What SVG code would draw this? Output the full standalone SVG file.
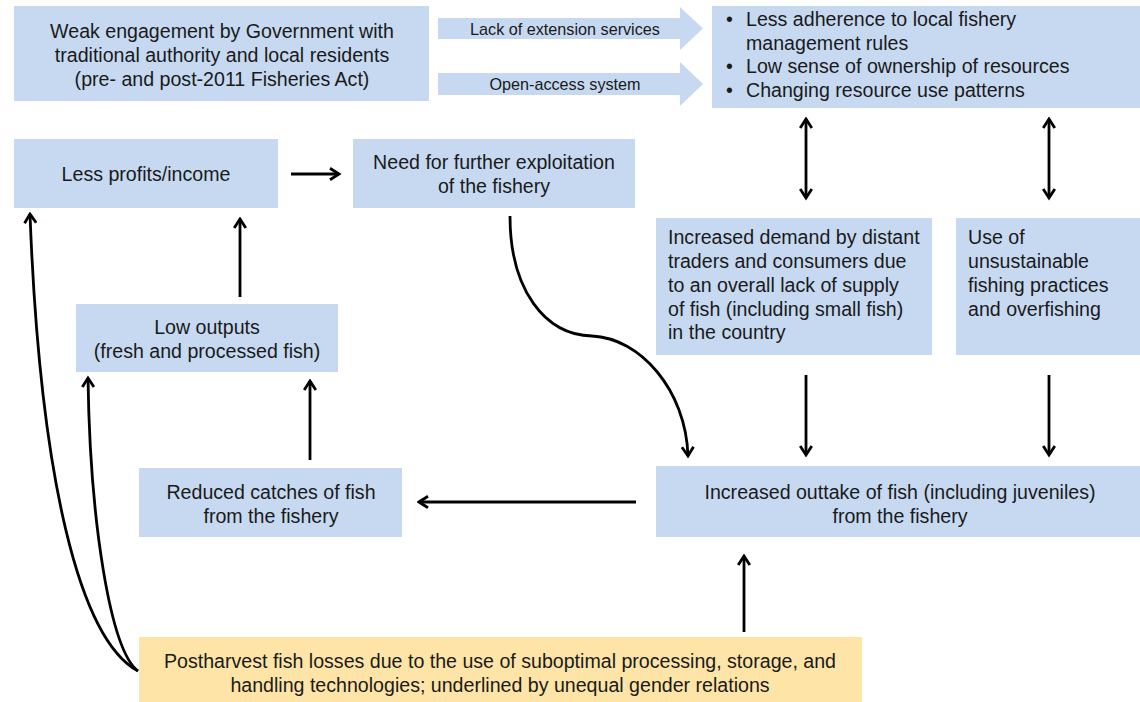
<svg xmlns="http://www.w3.org/2000/svg" width="1140" height="702" viewBox="0 0 1140 702">
<style>
.box{fill:#c6d9f1}
.yel{fill:#fee5a7}
text{font-family:"Liberation Sans",Arial,sans-serif;font-size:19.6px;fill:#1a1a1a}
.c{text-anchor:middle}
.sm{font-size:16.2px}
.ln{fill:none;stroke:#000;stroke-width:2.8}
</style>
<defs>
<marker id="ah" viewBox="0 0 14 14" refX="11.5" refY="7" markerWidth="14" markerHeight="14" markerUnits="userSpaceOnUse" orient="auto-start-reverse">
<path d="M2.5,1.2 L11.5,7 L2.5,12.8" fill="none" stroke="#000" stroke-width="2.8" stroke-linejoin="miter"/>
</marker>
</defs>
<g id="weak"><rect class="box" x="14" y="6" width="415" height="95"/>
<text class="c" x="222" y="38">Weak engagement by Government with</text>
<text class="c" x="222" y="62">traditional authority and local residents</text>
<text class="c" x="222" y="86">(pre- and post-2011 Fisheries Act)</text></g>
<g id="lack"><path class="box" d="M438,18 H680 V7 L703,28.5 L680,50 V39 H438 Z"/>
<text class="c sm" x="565" y="34.5">Lack of extension services</text></g>
<g id="open"><path class="box" d="M438,73 H680 V62 L703,84 L680,106 V95 H438 Z"/>
<text class="c sm" x="565" y="90">Open-access system</text></g>
<g id="adherence"><rect class="box" x="712" y="6" width="428" height="102"/>
<text x="726" y="26">•</text><text x="746" y="26">Less adherence to local fishery</text>
<text x="746" y="50">management rules</text>
<text x="726" y="73">•</text><text x="746" y="73">Low sense of ownership of resources</text>
<text x="726" y="97">•</text><text x="746" y="97">Changing resource use patterns</text></g>
<g id="profits"><rect class="box" x="14" y="139" width="264" height="69"/>
<text class="c" x="146" y="181">Less profits/income</text></g>
<g id="need"><rect class="box" x="353" y="139" width="282" height="69"/>
<text class="c" x="494" y="169">Need for further exploitation</text>
<text class="c" x="494" y="193">of the fishery</text></g>
<g id="demand"><rect class="box" x="656" y="218" width="276" height="137"/>
<text x="668" y="244">Increased demand by distant</text>
<text x="668" y="268">traders and consumers due</text>
<text x="668" y="292">to an overall lack of supply</text>
<text x="668" y="316">of fish (including small fish)</text>
<text x="668" y="339">in the country</text></g>
<g id="unsustainable"><rect class="box" x="956" y="218" width="184" height="137"/>
<text x="968" y="244">Use of</text>
<text x="968" y="268">unsustainable</text>
<text x="968" y="292">fishing practices</text>
<text x="968" y="316">and overfishing</text></g>
<g id="outputs"><rect class="box" x="76" y="304" width="262" height="68"/>
<text class="c" x="207" y="334">Low outputs</text>
<text class="c" x="207" y="358">(fresh and processed fish)</text></g>
<g id="catches"><rect class="box" x="139" y="468" width="263" height="69"/>
<text class="c" x="271" y="499">Reduced catches of fish</text>
<text class="c" x="271" y="523">from the fishery</text></g>
<g id="outtake"><rect class="box" x="656" y="466" width="484" height="71"/>
<text class="c" x="900" y="499">Increased outtake of fish (including juveniles)</text>
<text class="c" x="900" y="523">from the fishery</text></g>
<g id="postharvest"><rect class="yel" x="139" y="637" width="723" height="65"/>
<text class="c" x="500" y="668">Postharvest fish losses due to the use of suboptimal processing, storage, and</text>
<text class="c" x="500" y="692">handling technologies; underlined by unequal gender relations</text></g>
<g id="connectors">
<path class="ln" d="M291,174 H339" marker-end="url(#ah)"/>
<path class="ln" d="M806,119 V198" marker-start="url(#ah)" marker-end="url(#ah)"/>
<path class="ln" d="M1049,119 V198" marker-start="url(#ah)" marker-end="url(#ah)"/>
<path class="ln" d="M240,297 V219" marker-end="url(#ah)"/>
<path class="ln" d="M310,460 V381" marker-end="url(#ah)"/>
<path class="ln" d="M636,502 H419" marker-end="url(#ah)"/>
<path class="ln" d="M806,375 V455" marker-end="url(#ah)"/>
<path class="ln" d="M1049,375 V455" marker-end="url(#ah)"/>
<path class="ln" d="M744,632 V556" marker-end="url(#ah)"/>
<path class="ln" d="M510,216 C510,290 545,335 592,336 C640,338 686,390 688,456" marker-end="url(#ah)"/>
<path class="ln" d="M138,671 C80,640 40,480 30,214" marker-end="url(#ah)"/>
<path class="ln" d="M138,671 C110,650 90,520 88,378" marker-end="url(#ah)"/>
</g>
</svg>
